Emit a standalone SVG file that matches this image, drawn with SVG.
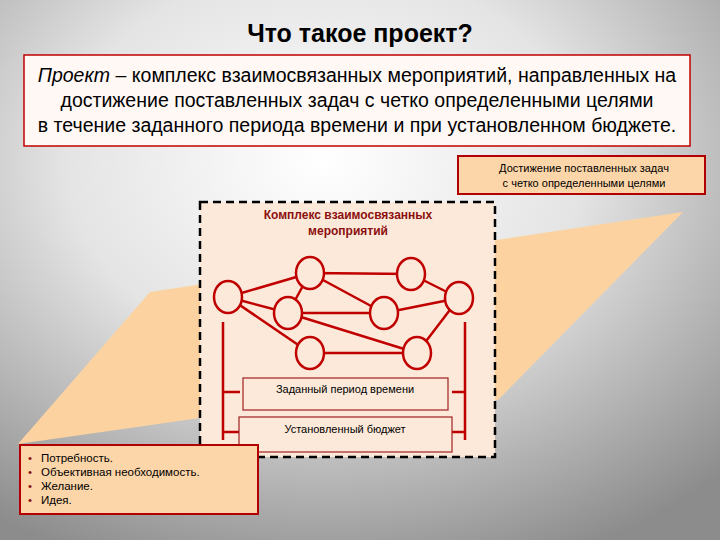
<svg xmlns="http://www.w3.org/2000/svg" width="720" height="540" viewBox="0 0 720 540">
<defs>
<radialGradient id="bg" cx="0.45" cy="0.3" r="0.8">
<stop offset="0" stop-color="#ffffff"/><stop offset="0.45" stop-color="#e4e4e4"/><stop offset="1" stop-color="#8c8c8c"/>
</radialGradient>
<style>
.t{font-family:"Liberation Sans",Arial,sans-serif;fill:#000}
.c{fill:#fde9d9;stroke:#c00000;stroke-width:2.5}
.e{stroke:#c00000;stroke-width:2.5;fill:none}
.b{fill:#fde9d9;stroke:#a02020;stroke-width:1.2}
.tan{fill:#fcd5a8;stroke:#b00000;stroke-width:2}
</style>
</defs>
<rect width="720" height="540" fill="url(#bg)"/>
<polygon points="18,444 150,292 683,212 498,400 200,418" fill="#fcd3a0"/>
<text class="t" x="360" y="42" font-size="25" font-weight="bold" text-anchor="middle">Что такое проект?</text>
<g id="definition">
<rect x="24" y="55" width="666" height="91" fill="#fff8f4" stroke="#c00000" stroke-width="1.5"/>
<text class="t" x="357" y="82" font-size="19.5" text-anchor="middle"><tspan font-style="italic">Проект</tspan> – комплекс взаимосвязанных мероприятий, направленных на</text>
<text class="t" x="357" y="107" font-size="19.5" text-anchor="middle">достижение поставленных задач с четко определенными целями</text>
<text class="t" x="357" y="132" font-size="19.5" text-anchor="middle">в течение заданного периода времени и при установленном бюджете.</text>
</g>
<g id="goals">
<rect class="tan" x="458" y="156" width="247" height="38"/>
<text class="t" x="584" y="172" font-size="11" text-anchor="middle">Достижение поставленных задач</text>
<text class="t" x="584" y="187" font-size="11" text-anchor="middle">с четко определенными целями</text>
</g>
<g id="complex">
<rect x="200" y="202" width="295" height="255" fill="#fde9d9" stroke="#000" stroke-width="2.5" stroke-dasharray="8,5"/>
<text x="348" y="219" font-size="12" font-weight="bold" text-anchor="middle" font-family="Liberation Sans,Arial,sans-serif" fill="#8b1010">Комплекс взаимосвязанных</text>
<text x="348" y="235" font-size="12" font-weight="bold" text-anchor="middle" font-family="Liberation Sans,Arial,sans-serif" fill="#8b1010">мероприятий</text>
</g>
<g id="connectors">
<path class="e" d="M228,297L310,273M228,297L288,313M228,297L310,353M310,273L411,274M310,273L288,313M310,273L384,313M411,274L459,298M288,313L384,313M288,313L417,353M384,313L459,298M310,353L417,353M417,353L459,298"/>
<path class="e" d="M223,322V440M223,392H240M223,432H240M465,322V440M465,392H452M465,432H452M256,457V470"/>
</g>
<g id="n1"><ellipse class="c" cx="228" cy="297" rx="14" ry="16"/></g>
<g id="n2"><ellipse class="c" cx="310" cy="273" rx="14" ry="16"/></g>
<g id="n3"><ellipse class="c" cx="411" cy="274" rx="14" ry="16"/></g>
<g id="n4"><ellipse class="c" cx="459" cy="298" rx="14" ry="16"/></g>
<g id="n5"><ellipse class="c" cx="288" cy="313" rx="14" ry="16"/></g>
<g id="n6"><ellipse class="c" cx="384" cy="313" rx="14" ry="16"/></g>
<g id="n7"><ellipse class="c" cx="310" cy="353" rx="14" ry="16"/></g>
<g id="n8"><ellipse class="c" cx="417" cy="353" rx="14" ry="16"/></g>
<g id="period">
<rect class="b" x="243" y="378" width="205" height="32"/>
<text class="t" x="345" y="393" font-size="11" text-anchor="middle">Заданный период времени</text>
</g>
<g id="budget">
<rect class="b" x="239" y="417" width="213" height="35"/>
<text class="t" x="345" y="433" font-size="11" text-anchor="middle">Установленный бюджет</text>
</g>
<g id="reasons">
<rect class="tan" x="20" y="445" width="238" height="69"/>
<g class="t" font-size="11.5">
<text x="28" y="462" fill="#8b1010">•</text><text x="41" y="462">Потребность.</text>
<text x="28" y="476" fill="#8b1010">•</text><text x="41" y="476">Объективная необходимость.</text>
<text x="28" y="490" fill="#8b1010">•</text><text x="41" y="490">Желание.</text>
<text x="28" y="504" fill="#8b1010">•</text><text x="41" y="504">Идея.</text>
</g>
</g>
</svg>
